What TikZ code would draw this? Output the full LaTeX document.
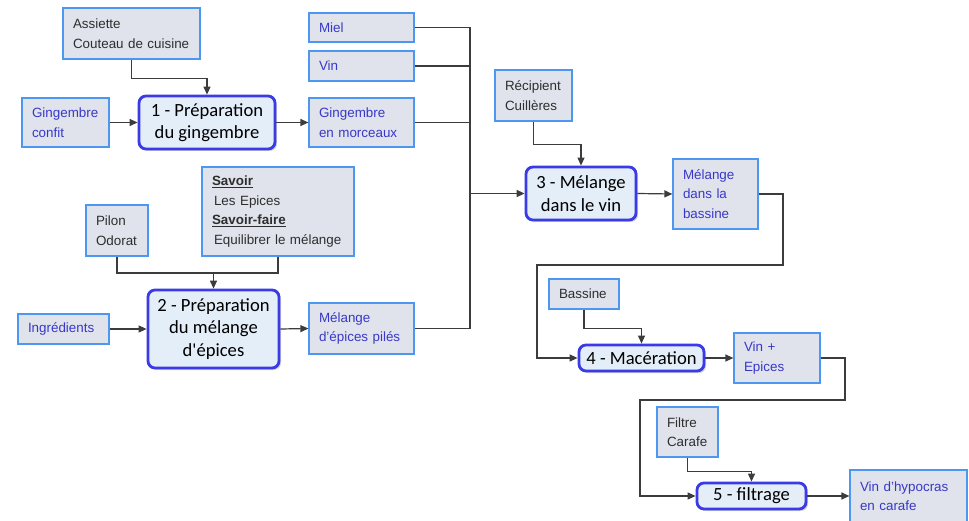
\documentclass[tikz,border=0pt]{standalone}
\usepackage{fontspec}
\setmainfont{Liberation Sans}
\newfontfamily\calibri{Carlito}
\usetikzlibrary{arrows.meta,shadows}
\definecolor{boxfill}{HTML}{E0E3EC}
\definecolor{boxdraw}{HTML}{4C97F2}
\definecolor{bluetxt}{HTML}{3838C8}
\definecolor{greytxt}{HTML}{2E2E2E}
\definecolor{procfill}{HTML}{E4EEF9}
\definecolor{procdraw}{HTML}{3A3AE6}
\definecolor{linecol}{HTML}{3C3C3C}
\tikzset{
  res/.style={draw=boxdraw, fill=boxfill, line width=1.2pt, rectangle, inner xsep=10pt, inner ysep=0pt,
    align=left, text=greytxt, font=\fontsize{13.4}{19.5}\selectfont},
  resin/.style={res, text=bluetxt},
  proc/.style={draw=procdraw, fill=procfill, line width=2.8pt, rounded corners=7pt, inner sep=0pt,
    align=center, text=black, font=\calibri\fontsize{18.6}{22.5}\selectfont,
    drop shadow={shadow xshift=2pt, shadow yshift=-2pt, opacity=0.35, fill=gray}},
  conn/.style={draw=linecol, line width=1.2pt},
  arr/.style={conn, -{Triangle[length=8pt,width=7pt]}}
}
\begin{document}
\begin{tikzpicture}[x=1pt,y=-1pt]
\useasboundingbox (0,0) rectangle (969,521);
% resources / inputs / outputs
\node[res, text width=117pt, minimum height=51pt] (assiette) at (131.5,33.5) {Assiette\\Couteau de cuisine};
\node[resin, text width=67pt, minimum height=49pt] (gconfit) at (65.5,122.5) {Gingembre\\confit};
\node[resin, text width=85pt, minimum height=29pt] (miel) at (361.5,27.5) {Miel};
\node[resin, text width=85pt, minimum height=30pt] (vin) at (361.5,66) {Vin};
\node[resin, text width=85pt, minimum height=49pt] (gmorc) at (361.5,122.5) {Gingembre\\en morceaux};
\node[res, text width=132pt, minimum height=89pt] (savoir) at (278,211.5)
  {\underline{\textbf{Savoir}}\\\hspace*{2pt}Les Epices\\\underline{\textbf{Savoir-faire}}\\\hspace*{2pt}Equilibrer le mélange};
\node[res, text width=42pt, minimum height=51pt] (pilon) at (117,230.5) {Pilon\\Odorat};
\node[resin, text width=71pt, minimum height=30pt] (ingr) at (63.5,329) {Ingrédients};
\node[resin, text width=85pt, minimum height=51pt] (mep) at (361.5,328.5) {Mélange\\d'épices pilés};
\node[res, text width=57pt, minimum height=51pt] (recip) at (533.5,95.5) {Récipient\\Cuillères};
\node[resin, text width=65pt, minimum height=70pt] (mdb) at (715.5,194) {Mélange\\dans la\\bassine};
\node[res, text width=50pt, minimum height=30pt] (bassine) at (584,294) {Bassine};
\node[resin, text width=66pt, minimum height=50pt] (vinep) at (777,358) {Vin +\\Epices};
\node[res, text width=41pt, minimum height=50pt] (filtre) at (687.5,432) {Filtre\\Carafe};
\node[resin, text width=97pt, minimum height=52pt] (hypo) at (908.5,496) {Vin d’hypocras\\en carafe};
% processes
\node[proc, minimum width=136pt, minimum height=53pt] (p1) at (207,122.5) {1 - Préparation\\du gingembre};
\node[proc, minimum width=131pt, minimum height=78pt] (p2) at (213.5,329) {2 - Préparation\\du mélange\\d'épices};
\node[proc, minimum width=110pt, minimum height=53pt] (p3) at (581,193.5) {3 - Mélange\\dans le vin};
\node[proc, minimum width=125pt, minimum height=26pt] (p4) at (641.5,358) {4 - Macération};
\node[proc, minimum width=109pt, minimum height=26pt] (p5) at (751.5,496) {5 - filtrage};
% helper coordinates
\coordinate (bus) at (470,0);
\coordinate (j2) at (213.5,273);
\coordinate (c1) at (783,265);
\coordinate (c2) at (537,265);
\coordinate (c3) at (845,400);
\coordinate (c4) at (640,400);
% connectors
\draw[arr] (assiette.south) -- ++(0,19) -| (p1.north);
\draw[arr] (gconfit.east) -- (p1.west);
\draw[arr] (p1.east) -- (gmorc.west);
\draw[conn] (miel.east) -- (miel.east -| bus) -- (mep.east -| bus) -- (mep.east);
\draw[conn] (vin.east) -- (vin.east -| bus);
\draw[conn] (gmorc.east) -- (gmorc.east -| bus);
\draw[arr, line width=1.6pt] (p3.west -| bus) -- (p3.west);
\draw[conn] (pilon.south) |- (j2) -| (savoir.south);
\draw[arr] (j2) -- (p2.north);
\draw[arr] (ingr.east) -- (p2.west);
\draw[arr] (p2.east) -- (mep.west);
\draw[arr] (recip.south) -- ++(0,23) -| (p3.north);
\draw[arr] (p3.east) -- (mdb.west);
\draw[arr] (mdb.east) -| (c1) -- (c2) |- (p4.west);
\draw[arr] (bassine.south) -- ++(0,19) -| (p4.north);
\draw[arr] (p4.east) -- (vinep.west);
\draw[arr] (vinep.east) -| (c3) -- (c4) |- (p5.west);
\draw[arr] (filtre.south) -- ++(0,14) -| (p5.north);
\draw[arr] (p5.east) -- (hypo.west);
\end{tikzpicture}
\end{document}
